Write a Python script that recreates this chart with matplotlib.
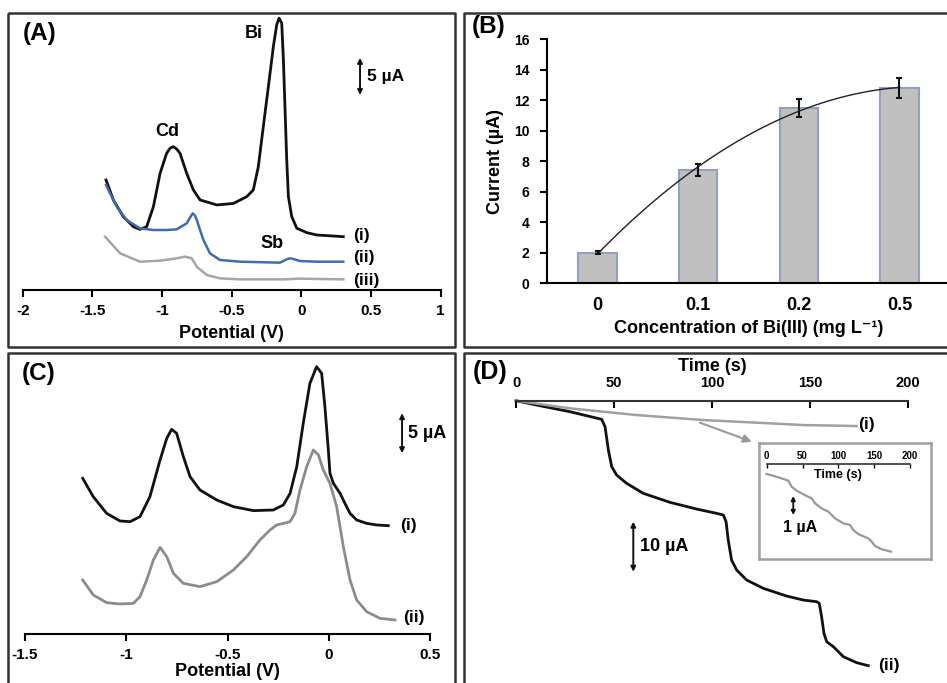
import numpy as np
import matplotlib
matplotlib.use('Agg')
import matplotlib.pyplot as plt
from matplotlib.lines import Line2D

plt.rcParams['font.family'] = ['Liberation Sans', 'DejaVu Sans']
plt.rcParams['font.weight'] = 'bold'
plt.rcParams['axes.labelweight'] = 'bold'
plt.rcParams['axes.unicode_minus'] = False

# ---------------- data ----------------
# Panel A: stripping voltammograms (potential V, current uA offset)
A_V_i = [-1.402, -1.349, -1.278, -1.206, -1.158, -1.110, -1.062, -1.014, -0.967, -0.943, -0.919, -0.895,
         -0.871, -0.823, -0.775, -0.727, -0.607, -0.488, -0.392, -0.345, -0.309, -0.273, -0.237, -0.201,
         -0.177, -0.160, -0.141, -0.129, -0.117, -0.105, -0.093, -0.069, -0.033, 0.039, 0.110, 0.230, 0.301]
A_I_i = [15.0, 12.27, 10.0, 8.64, 8.27, 8.64, 11.36, 15.91, 18.64, 19.32, 19.55, 19.23,
         18.64, 15.91, 13.64, 12.28, 11.6, 11.8, 12.73, 13.64, 16.8, 22.3, 27.7, 33.2,
         36.15, 37.07, 36.4, 31.4, 24.56, 17.7, 12.73, 10.0, 8.42, 7.82, 7.5, 7.36, 7.27]
A_V_ii = [-1.402, -1.325, -1.254, -1.158, -1.062, -0.967, -0.895, -0.823, -0.795, -0.780, -0.765, -0.751,
          -0.703, -0.656, -0.584, -0.440, -0.153, -0.105, -0.081, -0.057, -0.010, 0.110, 0.301]
A_I_ii = [14.32, 11.36, 9.55, 8.41, 8.18, 8.18, 8.27, 9.09, 10.0, 10.45, 10.2, 9.55,
          6.82, 5.0, 4.09, 3.86, 3.73, 4.18, 4.32, 4.23, 3.95, 3.86, 3.86]
A_V_iii = [-1.409, -1.301, -1.158, -1.014, -0.895, -0.835, -0.787, -0.751, -0.679, -0.584, -0.440, -0.129, -0.010, 0.301]
A_I_iii = [7.27, 5.0, 3.86, 4.0, 4.32, 4.55, 4.32, 3.18, 2.05, 1.59, 1.45, 1.45, 1.55, 1.45]
A_xticks = [-2, -1.5, -1, -0.5, 0, 0.5, 1]
A_xticklabels = ['-2', '-1.5', '-1', '-0.5', '0', '0.5', '1']

# Panel B: current vs Bi(III) concentration
B_categories = ['0', '0.1', '0.2', '0.5']
B_current = [2.0, 7.45, 11.48, 12.78]
B_error = [0.1, 0.4, 0.6, 0.66]
B_yticks = [0, 2, 4, 6, 8, 10, 12, 14, 16]

# Panel C
C_V_i = [-1.215, -1.163, -1.097, -1.031, -0.981, -0.932, -0.883, -0.833, -0.800, -0.776, -0.751, -0.718,
         -0.685, -0.636, -0.553, -0.471, -0.372, -0.274, -0.224, -0.191, -0.158, -0.126, -0.093, -0.060,
         -0.035, -0.019, -0.002, 0.006, 0.023, 0.056, 0.080, 0.105, 0.138, 0.187, 0.237, 0.294]
C_I_i = [19.46, 17.17, 15.08, 14.13, 14.04, 14.67, 17.17, 21.75, 24.46, 25.58, 25.08, 22.17,
         19.67, 18.0, 16.75, 15.92, 15.42, 15.5, 16.13, 17.58, 20.92, 26.33, 31.33, 33.42,
         32.58, 28.42, 23.0, 20.08, 18.83, 17.58, 16.33, 15.08, 14.25, 13.83, 13.63, 13.54]
C_V_ii = [-1.215, -1.163, -1.097, -1.031, -0.965, -0.932, -0.899, -0.866, -0.833, -0.800, -0.767, -0.718,
          -0.636, -0.553, -0.471, -0.405, -0.340, -0.290, -0.257, -0.224, -0.191, -0.167, -0.142, -0.109,
          -0.076, -0.051, -0.027, 0.006, 0.039, 0.072, 0.105, 0.138, 0.187, 0.253, 0.327]
C_I_ii = [6.75, 4.88, 3.92, 3.75, 3.83, 4.67, 6.75, 9.25, 10.83, 9.67, 7.58, 6.33,
          5.92, 6.54, 8.0, 9.67, 11.75, 13.0, 13.63, 13.83, 14.04, 15.08, 18.0, 20.92,
          23.0, 22.38, 20.5, 18.83, 15.92, 10.92, 6.75, 4.25, 2.79, 1.96, 1.75]
C_xticks = [-1.5, -1, -0.5, 0, 0.5]
C_xticklabels = ['-1.5', '-1', '-0.5', '0', '0.5']

# Panel D: amperometric responses (time s, current uA)
D_t_i = [0, 27.5, 61.5, 95.5, 129.5, 146.5, 173.7]
D_I_i = [0, -1.53, -2.87, -3.87, -4.53, -4.87, -5.07]
D_t_ii = [0, 10.5, 27.5, 43.7, 45.4, 47.1, 48.8, 51.3, 56.4, 64.9, 78.5, 92.1, 102.3, 105.7, 107.1, 108.2,
          109.9, 112.5, 117.6, 126.1, 138.0, 146.5, 153.3, 154.6, 155.8, 157.0, 158.4, 161.8, 166.9, 173.7, 179.6]
D_I_ii = [0, -0.87, -2.2, -3.73, -5.2, -9.87, -13.2, -14.87, -16.53, -18.53, -20.33, -21.67, -22.53, -22.87,
          -24.2, -27.87, -31.87, -33.87, -35.87, -37.53, -39.07, -39.87, -40.2, -40.53, -43.2, -46.53, -48.2,
          -49.2, -51.2, -52.4, -53.0]
D_xticks = [0, 50, 100, 150, 200]
# inset (zoom of curve i)
In_t = [0, 16.3, 30.2, 34.9, 41.9, 55.8, 62.8, 67.4, 76.7, 86.0, 95.3, 107.0, 116.3, 120.9, 127.9,
        141.9, 146.5, 151.2, 160.5, 173.5]
In_I = [0, -0.175, -0.35, -0.67, -0.88, -1.16, -1.28, -1.54, -1.81, -1.98, -2.33, -2.60, -2.68, -2.95,
        -3.16, -3.39, -3.56, -3.79, -3.96, -4.09]

# ---------------- figure ----------------
W, H = 947, 683
fig = plt.figure(figsize=(W / 100, H / 100), dpi=100)


def ax_px(l, t, r, b):
    return fig.add_axes([l / W, 1 - b / H, (r - l) / W, (b - t) / H])


def fline(xs, ys, **kw):
    fig.add_artist(Line2D([x / W for x in xs], [1 - y / H for y in ys],
                          transform=fig.transFigure, **kw))


def bare(ax):
    for s in ax.spines.values():
        s.set_visible(False)
    ax.set_facecolor('none')


BLACK = '#111111'
GRAY = '#a6a6a6'
BLUE = '#3f6cb0'
ann_fs = 13

# panel borders
bkw = dict(color='#333333', lw=1.8, solid_capstyle='butt')
fline([8, 455, 455, 8, 8], [13, 13, 347, 347, 13], **bkw)
fline([950, 463.5, 463.5, 950], [13, 13, 347, 347], **bkw)
fline([8, 8, 455, 455], [690, 353, 353, 690], **bkw)
fline([463.5, 463.5, 950], [690, 353, 353], **bkw)

# ---------- Panel A ----------
axA = ax_px(22.7, 15, 440.7, 290)
bare(axA)
axA.spines['bottom'].set_visible(True)
axA.spines['bottom'].set_linewidth(1.5)
axA.set_xlim(-2, 1)
axA.set_ylim(0, 37.5)
axA.set_yticks([])
axA.set_xticks(A_xticks)
axA.set_xticklabels(A_xticklabels)
axA.tick_params(axis='x', direction='out', length=5, width=1.5, labelsize=11, pad=5)
axA.set_xlabel('Potential (V)', fontsize=13, labelpad=5)
axA.plot(A_V_i, A_I_i, color=BLACK, lw=2, clip_on=False)
axA.plot(A_V_ii, A_I_ii, color=BLUE, lw=1.8, clip_on=False)
axA.plot(A_V_iii, A_I_iii, color=GRAY, lw=1.8, clip_on=False)
axA.annotate('', xy=(0.421, 31.65), xytext=(0.421, 26.6),
             arrowprops=dict(arrowstyle='<|-|>', lw=1.4, color=BLACK, mutation_scale=7,
                             shrinkA=0, shrinkB=0))
axA.text(0.472, 29.1, '5 µA', fontsize=12.5, ha='left', va='center')
axA.text(0.371, 7.5, '(i)', fontsize=12.5, ha='left', va='center')
axA.text(0.371, 4.37, '(ii)', fontsize=12.5, ha='left', va='center')
axA.text(0.371, 1.36, '(iii)', fontsize=12.5, ha='left', va='center')
axA.text(-0.339, 35.0, 'Bi', fontsize=ann_fs, ha='center', va='center')
axA.text(-0.961, 21.6, 'Cd', fontsize=ann_fs, ha='center', va='center')
axA.text(-0.214, 6.37, 'Sb', fontsize=ann_fs, ha='center', va='center')
fig.text(22.7 / W, 1 - 33.3 / H, '(A)', fontsize=17.5, ha='left', va='center')

# ---------- Panel B ----------
axB = ax_px(547.3, 39.3, 949.8, 283.3)
axB.set_facecolor('none')
for s in ['top', 'right']:
    axB.spines[s].set_visible(False)
for s in ['left', 'bottom']:
    axB.spines[s].set_linewidth(1.5)
xB = np.arange(len(B_categories))
axB.bar(xB, B_current, width=0.38, color='#c0c0c0', edgecolor='#93a0c2', linewidth=1.5, zorder=2)
axB.errorbar(xB, B_current, yerr=B_error, fmt='none', ecolor=BLACK, elinewidth=1.5,
             capsize=2.5, capthick=1.5, zorder=4)
coef = np.polyfit(xB, B_current, 2)
xf = np.linspace(0, 3, 100)
axB.plot(xf, np.polyval(coef, xf), color='#222222', lw=1.0, zorder=3)
axB.set_xlim(-0.5, 3.5)
axB.set_ylim(0, 16)
axB.set_yticks(B_yticks)
axB.set_xticks(xB)
axB.set_xticklabels(B_categories)
axB.tick_params(axis='y', direction='out', length=5, width=1.5, labelsize=10, pad=8)
axB.tick_params(axis='x', length=0, labelsize=13, pad=10)
axB.set_xlabel('Concentration of Bi(III) (mg L\u207b\u00b9)', fontsize=13, labelpad=4)
axB.set_ylabel('Current (µA)', fontsize=13, labelpad=7)
fig.text(471.7 / W, 1 - 26.7 / H, '(B)', fontsize=17.5, ha='left', va='center')

# ---------- Panel C ----------
axC = ax_px(25, 358, 430, 634)
bare(axC)
axC.spines['bottom'].set_visible(True)
axC.spines['bottom'].set_linewidth(1.5)
axC.set_xlim(-1.5, 0.5)
axC.set_ylim(0, 34.5)
axC.set_yticks([])
axC.set_xticks(C_xticks)
axC.set_xticklabels(C_xticklabels)
axC.tick_params(axis='x', direction='out', length=5, width=1.5, labelsize=11, pad=5)
axC.set_xlabel('Potential (V)', fontsize=13, labelpad=1)
axC.plot(C_V_i, C_I_i, color=BLACK, lw=2, clip_on=False)
axC.plot(C_V_ii, C_I_ii, color='#8c8c8c', lw=2, clip_on=False)
axC.annotate('', xy=(0.362, 27.6), xytext=(0.362, 22.6),
             arrowprops=dict(arrowstyle='<|-|>', lw=1.4, color=BLACK, mutation_scale=7,
                             shrinkA=0, shrinkB=0))
axC.text(0.391, 25.1, '5 µA', fontsize=13, ha='left', va='center')
axC.text(0.352, 13.6, '(i)', fontsize=12.5, ha='left', va='center')
axC.text(0.367, 2.1, '(ii)', fontsize=12.5, ha='left', va='center')
fig.text(21.7 / W, 1 - 373.3 / H, '(C)', fontsize=17.5, ha='left', va='center')

# ---------- Panel D ----------
axD = ax_px(516, 400.7, 908.3, 680.7)
bare(axD)
axD.spines['top'].set_visible(True)
axD.spines['top'].set_linewidth(1.5)
axD.spines['top'].set_color('#333333')
axD.set_xlim(0, 200)
axD.set_ylim(-56, 0)
axD.set_yticks([])
axD.xaxis.set_ticks_position('top')
axD.xaxis.set_label_position('top')
axD.set_xticks(D_xticks)
axD.tick_params(axis='x', direction='in', length=5, width=1.5, labelsize=10.5, pad=8)
axD.set_xlabel('Time (s)', fontsize=13, labelpad=3)
axD.plot(D_t_ii, D_I_ii, color=BLACK, lw=2, clip_on=False)
axD.plot(D_t_i, D_I_i, color='#a0a0a0', lw=1.8, clip_on=False)
axD.annotate('', xy=(59.8, -24.2), xytext=(59.8, -34.2),
             arrowprops=dict(arrowstyle='<|-|>', lw=1.4, color=BLACK, mutation_scale=7,
                             shrinkA=0, shrinkB=0))
axD.text(63.2, -29.2, '10 µA', fontsize=13, ha='left', va='center')
axD.text(174.5, -4.86, '(i)', fontsize=12.5, ha='left', va='center')
axD.text(184.7, -52.9, '(ii)', fontsize=12.5, ha='left', va='center')
axD.annotate('', xy=(120.2, -8.2), xytext=(93.8, -4.4),
             arrowprops=dict(arrowstyle='-|>', lw=1.5, color='#999999', mutation_scale=12,
                             shrinkA=0, shrinkB=0))
fig.text(473 / W, 1 - 371.7 / H, '(D)', fontsize=18, ha='left', va='center')

# inset
axIn = ax_px(759, 442.7, 931, 559.3)
axIn.set_facecolor('white')
for s in axIn.spines.values():
    s.set_color('#a0a0a0')
    s.set_linewidth(1.8)
axIn.set_xticks([])
axIn.set_yticks([])
axIn.set_xlim(-10.7, 229.3)
axIn.set_ylim(-4.49, 1.647)
axIn.plot(In_t, In_I, color='#999999', lw=1.6)
axIn.annotate('', xy=(37.1, -1.16), xytext=(37.1, -2.16),
              arrowprops=dict(arrowstyle='<|-|>', lw=1.3, color=BLACK, mutation_scale=6,
                              shrinkA=0, shrinkB=0))
axIn.text(46.5, -2.84, '1 µA', fontsize=11.5, ha='center', va='center')

axT = ax_px(766.7, 464, 910, 465)
bare(axT)
axT.spines['top'].set_visible(True)
axT.spines['top'].set_linewidth(1.2)
axT.spines['top'].set_color('#333333')
axT.set_xlim(0, 200)
axT.set_yticks([])
axT.xaxis.set_ticks_position('top')
axT.set_xticks(D_xticks)
axT.tick_params(axis='x', direction='in', length=3, width=1.0, labelsize=7, pad=2)
axT.set_xlabel('Time (s)', fontsize=9, labelpad=3)

fig.savefig('out.png', dpi=100)
